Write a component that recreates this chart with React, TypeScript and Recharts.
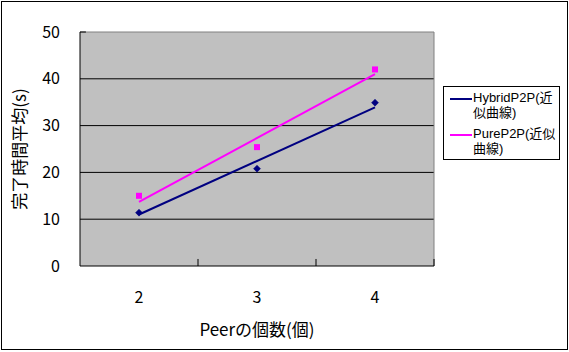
import React from 'react';
import { ComposedChart, Line, XAxis, YAxis, CartesianGrid, ReferenceLine, Label } from 'recharts';

const categories = [2, 3, 4];
const hybridValues = [11.4, 20.8, 34.9];
const pureValues = [15.0, 25.4, 42.0];
const trendX = [2, 4];
const hybridTrend = [11.0, 33.9];
const pureTrend = [13.7, 41.0];
const yTicks = [0, 10, 20, 30, 40, 50];
const gridValues = [10, 20, 30, 40];
const boundaryTicks = [2.5, 3.5];
const seriesNames = ['HybridP2P(近似曲線)', 'PureP2P(近似曲線)'];
const legendLines = [['HybridP2P(近', '似曲線)'], ['PureP2P(近似', '曲線)']];

const data = categories.map((c, i) => {
  const ti = trendX.indexOf(c);
  return {
    x: c,
    hybrid: hybridValues[i],
    pure: pureValues[i],
    hybridT: ti >= 0 ? hybridTrend[ti] : null,
    pureT: ti >= 0 ? pureTrend[ti] : null,
  };
});

const FONT = '"Noto Sans CJK JP", "Noto Sans", sans-serif';
const LEGEND_FONT = '"Liberation Sans", "Noto Sans CJK JP", sans-serif';
const NAVY = '#000080';
const MAGENTA = '#FF00FF';

const Diamond = (props: any) => {
  const { cx, cy } = props;
  if (cx == null || cy == null) return null;
  const s = 3.5;
  return <polygon points={`${cx},${cy - s} ${cx + s},${cy} ${cx},${cy + s} ${cx - s},${cy}`} fill={NAVY} stroke={NAVY} strokeWidth={0.5} />;
};

const Square = (props: any) => {
  const { cx, cy } = props;
  if (cx == null || cy == null) return null;
  return <rect x={cx - 3} y={cy - 3} width={6} height={6} fill={MAGENTA} />;
};

const LegendBox = () => (
  <div style={{ position: 'absolute', left: 443, top: 86, width: 117, height: 74, border: '1px solid #000', boxSizing: 'border-box', background: '#fff', fontFamily: LEGEND_FONT, fontSize: 13, lineHeight: '15px', color: '#000' }}>
    {[NAVY, MAGENTA].map((col, i) => (
      <div key={i} style={{ position: 'absolute', left: 6, top: 3 + i * 36, display: 'flex', whiteSpace: 'nowrap' }} title={seriesNames[i]}>
        <div style={{ width: 22, height: 2, background: col, marginTop: 8 }} />
        <div style={{ marginLeft: 1 }}>
          <div>{legendLines[i][0]}</div>
          <div>{legendLines[i][1]}</div>
        </div>
      </div>
    ))}
  </div>
);

export default function App() {
  return (
    <div style={{ position: 'absolute', left: 0, top: 0, width: 569, height: 352, background: '#fff' }}>
      <ComposedChart width={569} height={352} data={data} margin={{ top: 32, right: 135, bottom: 26, left: 0 }} style={{ fontFamily: FONT }}>
        <CartesianGrid horizontal={false} vertical={false} fill="#C0C0C0" />
        <XAxis
          dataKey="x"
          type="number"
          domain={[1.5, 4.5]}
          ticks={categories}
          allowDataOverflow
          height={60}
          tickLine={false}
          tickSize={0}
          tickMargin={26}
          axisLine={{ stroke: '#000', strokeWidth: 1 }}
          tick={{ fill: '#000', fontSize: 16, fontFamily: FONT }}
        >
          <Label
            content={(p: any) => {
              const vb = p.viewBox;
              return (
                <text x={vb.x + vb.width / 2} y={vb.y + 70} textAnchor="middle" fontSize={17} fontFamily={FONT} fill="#000">Peerの個数(個)</text>
              );
            }}
          />
        </XAxis>
        <YAxis
          type="number"
          domain={[0, 50]}
          ticks={yTicks}
          width={80}
          tickLine={false}
          tickSize={0}
          tickMargin={20}
          axisLine={{ stroke: '#000', strokeWidth: 1 }}
          tick={{ fill: '#000', fontSize: 16, fontFamily: FONT }}
        >
          <Label
            content={(p: any) => {
              const vb = p.viewBox;
              const cx = vb.x + 18;
              const cy = vb.y + vb.height / 2;
              return (
                <text x={cx} y={cy} transform={`rotate(-90, ${cx}, ${cy})`} textAnchor="middle" dominantBaseline="central" fontSize={17} fontFamily={FONT} fill="#000">完了時間平均(s)</text>
              );
            }}
          />
        </YAxis>
        {gridValues.map((v) => (
          <ReferenceLine key={'g' + v} y={v} stroke="#000" strokeWidth={1} />
        ))}
        <ReferenceLine y={50} stroke="#808080" strokeWidth={1} />
        <ReferenceLine x={4.5} stroke="#808080" strokeWidth={1} />
        {boundaryTicks.map((t) => (
          <ReferenceLine key={'t' + t} segment={[{ x: t, y: 0 }, { x: t, y: 1.5 }]} stroke="#000" strokeWidth={1} />
        ))}
        <ReferenceLine segment={[{ x: 4.5, y: 0 }, { x: 4.5, y: 1.5 }]} stroke="#000" strokeWidth={1} />
        <ReferenceLine segment={[{ x: 1.5, y: 50 }, { x: 1.55, y: 50 }]} stroke="#000" strokeWidth={1} />
        <Line dataKey="hybridT" name={seriesNames[0]} stroke={NAVY} strokeWidth={2} dot={false} activeDot={false} connectNulls isAnimationActive={false} />
        <Line dataKey="pureT" name={seriesNames[1]} stroke={MAGENTA} strokeWidth={2} dot={false} activeDot={false} connectNulls isAnimationActive={false} />
        <Line dataKey="hybrid" stroke="none" dot={<Diamond />} activeDot={false} legendType="none" isAnimationActive={false} />
        <Line dataKey="pure" stroke="none" dot={<Square />} activeDot={false} legendType="none" isAnimationActive={false} />
      </ComposedChart>
      <LegendBox />
      <div style={{ position: 'absolute', left: 1, top: 1, width: 567, height: 349, border: '1px solid #000', boxSizing: 'border-box', pointerEvents: 'none' }} />
    </div>
  );
}
